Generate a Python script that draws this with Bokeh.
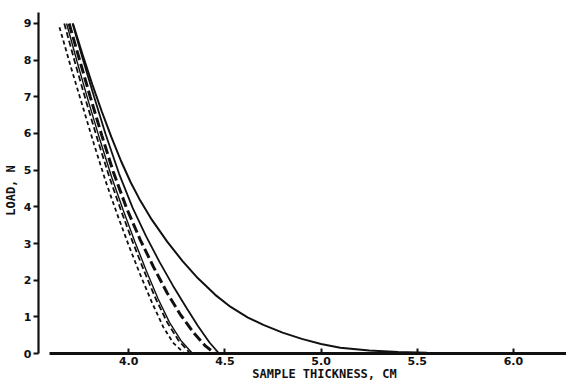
from bokeh.plotting import figure
from bokeh.models import Range1d, FixedTicker, PrintfTickFormatter, Label
from bokeh.embed import file_html
from bokeh.resources import INLINE

# Curve A: short dashes (leftmost)
a_x = [3.64, 3.70, 3.76, 3.82, 3.88, 3.94, 4.00, 4.06, 4.12, 4.18, 4.23, 4.29]
a_y = [8.9, 7.8, 6.75, 5.7, 4.7, 3.8, 2.95, 2.15, 1.4, 0.72, 0.3, 0.0]

# Curve B: medium dashes
b_x = [3.665, 3.72, 3.78, 3.84, 3.90, 3.96, 4.02, 4.08, 4.14, 4.20, 4.26, 4.32]
b_y = [9.0, 7.95, 6.85, 5.8, 4.8, 3.9, 3.05, 2.25, 1.5, 0.85, 0.35, 0.0]

# Curve B2: thin solid, close to B
b2_x = [3.677, 3.732, 3.792, 3.852, 3.912, 3.972, 4.032, 4.092, 4.152, 4.212, 4.272, 4.332]
b2_y = [9.0, 7.95, 6.85, 5.8, 4.8, 3.9, 3.05, 2.25, 1.5, 0.85, 0.35, 0.0]

# Curve C: heavy long dashes
c_x = [3.69, 3.745, 3.80, 3.86, 3.92, 3.99, 4.06, 4.13, 4.20, 4.27, 4.34, 4.40, 4.45]
c_y = [9.0, 8.0, 7.0, 5.95, 4.95, 3.95, 3.1, 2.35, 1.65, 1.05, 0.55, 0.2, 0.0]

# Curve D: solid
d_x = [3.708, 3.76, 3.82, 3.88, 3.95, 4.02, 4.09, 4.16, 4.23, 4.30, 4.36, 4.42, 4.47]
d_y = [9.0, 8.05, 7.0, 5.98, 4.9, 3.98, 3.2, 2.5, 1.85, 1.25, 0.75, 0.3, 0.0]

# Curve E: solid with long tail
e_x = [3.71, 3.76, 3.81, 3.86, 3.91, 3.96, 4.01, 4.06, 4.12, 4.20, 4.28, 4.36, 4.45,
       4.53, 4.62, 4.70, 4.80, 4.90, 5.00, 5.10, 5.25, 5.40, 5.55, 5.75, 6.00, 6.28]
e_y = [9.0, 8.15, 7.35, 6.6, 5.9, 5.25, 4.67, 4.17, 3.65, 3.05, 2.52, 2.05, 1.6,
       1.27, 0.98, 0.78, 0.57, 0.4, 0.26, 0.16, 0.08, 0.04, 0.02, 0.01, 0.0, 0.0]

x_ticks = [4.0, 4.5, 5.0, 5.5, 6.0]
y_ticks = [0, 1, 2, 3, 4, 5, 6, 7, 8, 9]
x_title = "SAMPLE THICKNESS, CM"
y_title = "LOAD, N"

p = figure(width=566, height=380, output_backend="svg", toolbar_location=None,
           x_range=Range1d(3.531, 6.276), y_range=Range1d(-0.736, 9.627),
           min_border_left=27, min_border_right=0, min_border_top=0,
           min_border_bottom=0)
p.grid.visible = False
p.outline_line_color = None
p.background_fill_color = "white"

ink = "#111111"
p.line(a_x, a_y, line_color=ink, line_width=1.8, line_dash="4 3")
p.line(b_x, b_y, line_color=ink, line_width=1.8, line_dash="6 3")
p.line(b2_x, b2_y, line_color=ink, line_width=1.4)
p.line(c_x, c_y, line_color=ink, line_width=3.0, line_dash="10 4")
p.line(d_x, d_y, line_color=ink, line_width=1.8)
p.line(e_x, e_y, line_color=ink, line_width=2.0)

xa = p.xaxis[0]
xa.fixed_location = 0
xa.ticker = FixedTicker(ticks=x_ticks)
xa.formatter = PrintfTickFormatter(format="%.1f")
xa.bounds = (3.59, 6.276)
xa.axis_line_width = 2.8
xa.axis_line_color = ink
xa.major_tick_in = 5
xa.major_tick_out = 0
xa.major_tick_line_width = 2
xa.major_tick_line_color = ink
xa.minor_tick_line_color = None
xa.major_label_standoff = 3

ya = p.yaxis[0]
ya.ticker = FixedTicker(ticks=y_ticks)
ya.bounds = (0, 9.3)
ya.axis_line_width = 2.2
ya.axis_line_color = ink
ya.major_tick_in = 0
ya.major_tick_out = 5
ya.major_tick_line_width = 2
ya.major_tick_line_color = ink
ya.minor_tick_line_color = None
ya.major_label_standoff = 2
ya.axis_label = y_title
ya.axis_label_standoff = 3
ya.axis_label_text_font = "DejaVu Sans Mono"
ya.axis_label_text_font_style = "bold"
ya.axis_label_text_font_size = "12px"
ya.axis_label_text_color = ink

for ax in (xa, ya):
    ax.major_label_text_font = "DejaVu Sans"
    ax.major_label_text_font_style = "bold"
    ax.major_label_text_font_size = "11px"
    ax.major_label_text_color = ink

xlab = Label(x=286, y=0, x_units="screen", y_units="screen", text=x_title,
             text_font="DejaVu Sans Mono", text_font_style="bold",
             text_font_size="12px", text_color=ink, text_align="center",
             text_baseline="bottom")
p.add_layout(xlab)

open("out.html", "w").write(file_html(p, INLINE))
